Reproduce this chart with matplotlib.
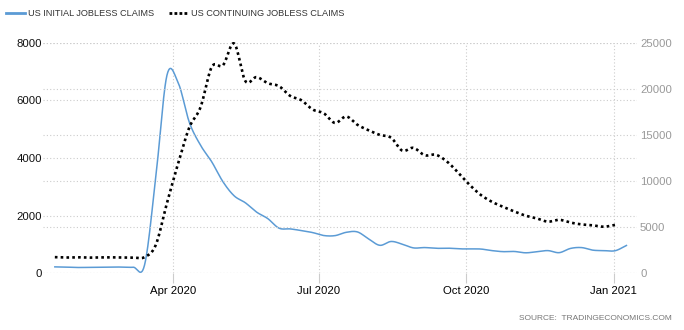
import numpy as np
import matplotlib.pyplot as plt
import matplotlib.dates as mdates
from matplotlib.lines import Line2D

plt.rcParams['font.family'] = ['Liberation Sans', 'DejaVu Sans']

# weekly initial claims (thousands), week ending Saturday
initial_start = '2020-01-18'
initial_claims = [223, 216, 202, 205, 210, 219, 216, 211, 282, 3307, 6867, 6615,
                  5237, 4442, 3867, 3176, 2687, 2446, 2123, 1897, 1566, 1540, 1482,
                  1413, 1310, 1307, 1422, 1435, 1191, 971, 1104, 1011, 881, 893,
                  866, 873, 849, 845, 842, 787, 751, 757, 711, 748, 787, 716, 862,
                  892, 803, 787, 784, 965]

# weekly continuing claims (thousands)
continuing_start = '2020-01-18'
continuing_claims = [1750, 1710, 1740, 1700, 1720, 1730, 1700, 1700, 1750, 3059,
                     7600, 11914, 15819, 18011, 22377, 22548, 24912, 20838, 21268,
                     20606, 20289, 19231, 18760, 17760, 17340, 16300, 17000, 16100,
                     15500, 15000, 14700, 13300, 13600, 12800, 12850, 12100, 10900,
                     9600, 8500, 7750, 7200, 6700, 6250, 5950, 5600, 5800, 5500,
                     5300, 5200, 5050, 5250]

xticks = ['2020-04-01', '2020-07-01', '2020-10-01', '2021-01-01']
xtick_labels = ['Apr 2020', 'Jul 2020', 'Oct 2020', 'Jan 2021']
left_ticks = [0, 2000, 4000, 6000, 8000]
right_ticks = [0, 5000, 10000, 15000, 20000, 25000]


def weekly_dates(start, n):
    return mdates.date2num(np.datetime64(start) + np.arange(n) * np.timedelta64(7, 'D'))


def catmull_rom(x, y, n=24):
    # smooth curve through evenly spaced points
    x = np.asarray(x, float)
    y = np.asarray(y, float)
    m = np.empty_like(y)
    m[1:-1] = (y[2:] - y[:-2]) / 2
    m[0] = y[1] - y[0]
    m[-1] = y[-1] - y[-2]
    t = np.linspace(0, 1, n, endpoint=False)
    h00 = 2 * t**3 - 3 * t**2 + 1
    h10 = t**3 - 2 * t**2 + t
    h01 = -2 * t**3 + 3 * t**2
    h11 = t**3 - t**2
    xs, ys = [], []
    for i in range(len(y) - 1):
        xs.append(x[i] + t * (x[i + 1] - x[i]))
        ys.append(h00 * y[i] + h10 * m[i] + h01 * y[i + 1] + h11 * m[i + 1])
    xs.append([x[-1]])
    ys.append([y[-1]])
    return np.concatenate(xs), np.concatenate(ys)


x1 = weekly_dates(initial_start, len(initial_claims))
x2 = weekly_dates(continuing_start, len(continuing_claims))
sx1, sy1 = catmull_rom(x1, initial_claims)
sx2, sy2 = catmull_rom(x2, continuing_claims)

fig = plt.figure(figsize=(6.84, 3.30), dpi=100)
ax = fig.add_axes([43 / 684, 1 - 273.3 / 330, (637 - 43) / 684, (273.3 - 42.7) / 330])
ax2 = ax.twinx()

blue = '#5b9bd5'
grid_kw = dict(color='#cccccc', linewidth=0.8, linestyle=(0, (1, 2)))

ax.plot(sx1, sy1, color=blue, linewidth=1.1, clip_on=False, zorder=3)
ax2.plot(sx2, sy2, color='black', linewidth=1.9, linestyle=(0, (1, 1.2)),
         dash_capstyle='butt', clip_on=False, zorder=3)

ax.set_xlim(mdates.date2num(np.datetime64('2020-01-10')) + 0.6,
            mdates.date2num(np.datetime64('2021-01-15')) + 0.6)
ax.set_ylim(0, 8000)
ax2.set_ylim(0, 25000)

ax.set_xticks(mdates.date2num(np.array(xticks, dtype='datetime64[D]')))
ax.set_xticklabels(xtick_labels)
ax.set_yticks(left_ticks)
ax.set_yticklabels([str(v) for v in left_ticks])
ax2.set_yticks(right_ticks)
ax2.set_yticklabels([str(v) for v in right_ticks])

ax.grid(True, axis='both', **grid_kw)
ax2.grid(True, axis='y', **grid_kw)
ax.set_axisbelow(True)

for a in (ax, ax2):
    for s in a.spines.values():
        s.set_visible(False)

ax.tick_params(axis='x', length=7.5, width=0.8, color='#cccccc', pad=1.5,
               labelsize=8.2, labelcolor='black')
ax.tick_params(axis='y', length=0, pad=0.8, labelsize=8.2, labelcolor='#111111')
ax2.tick_params(axis='y', length=0, pad=2.2, labelsize=8.2, labelcolor='#999999')

# legend across the top
handles = [Line2D([], [], color=blue, linewidth=2),
           Line2D([], [], color='black', linewidth=2, linestyle=(0, (1, 0.8)))]
fig.legend(handles, ['US INITIAL JOBLESS CLAIMS', 'US CONTINUING JOBLESS CLAIMS'],
           loc='center left', bbox_to_anchor=(-0.003, 1 - 14 / 330), ncol=2,
           frameon=False, fontsize=6.6, handlelength=2.0, handletextpad=0.4,
           columnspacing=1.6, labelcolor='#333333')

fig.text(672 / 684, 1 - 319 / 330, 'SOURCE:  TRADINGECONOMICS.COM', ha='right',
         va='center', fontsize=6, color='#777777')

fig.savefig('out.png', dpi=100)
